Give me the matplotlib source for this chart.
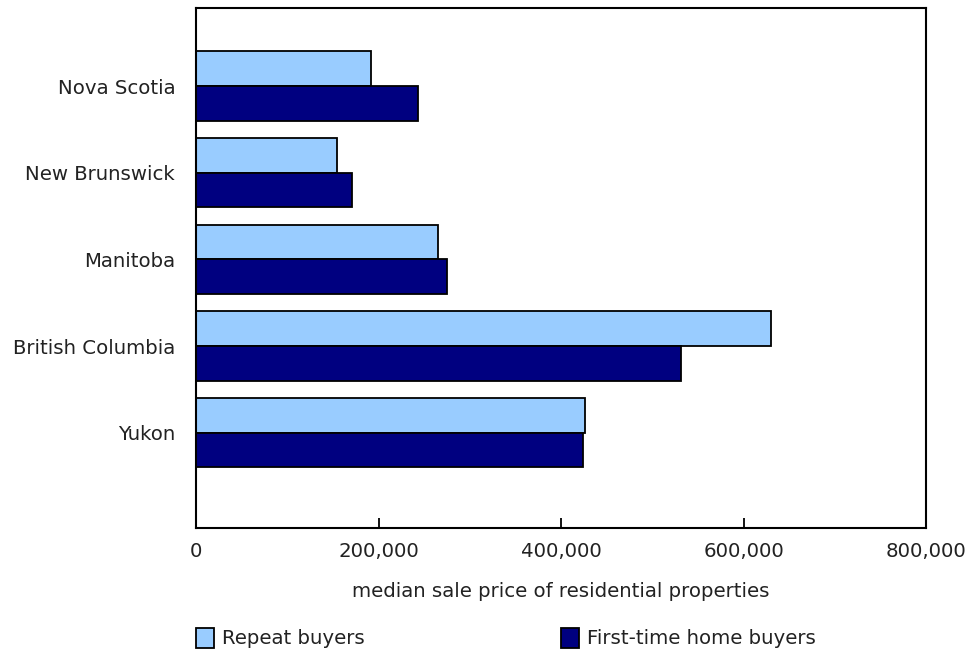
import numpy as np
import matplotlib.pyplot as plt
from matplotlib.patches import Patch

# ---------------------------------------------------------------------------
# Data
# ---------------------------------------------------------------------------
provinces = ["Nova Scotia", "New Brunswick", "Manitoba", "British Columbia", "Yukon"]
repeat_buyers = [191500, 154000, 265500, 630000, 426000]
first_time_buyers = [243500, 170500, 275500, 531000, 424500]

series_labels = ["Repeat buyers", "First-time home buyers"]
colors = ["#99CCFF", "#000080"]
x_ticks = [0, 200000, 400000, 600000, 800000]

FS = 14.2
TXT = "#222222"

# ---------------------------------------------------------------------------
# Plot
# ---------------------------------------------------------------------------
plt.rcParams["font.family"] = "DejaVu Sans"
fig = plt.figure(figsize=(9.71, 6.5), dpi=100)
ax = fig.add_axes([196 / 971, 1 - 528 / 650, 730 / 971, 520 / 650])

n = len(provinces)
y = np.arange(n)[::-1]  # first category at top
h = 0.4

ax.barh(y + h / 2, repeat_buyers, height=h, color=colors[0],
        edgecolor="black", linewidth=1.3)
ax.barh(y - h / 2, first_time_buyers, height=h, color=colors[1],
        edgecolor="black", linewidth=1.3)

ax.set_xlim(0, 800000)
ax.set_ylim(-1.1, 4.9)
ax.set_yticks(y)
ax.set_yticklabels(provinces, fontsize=FS, color=TXT)
ax.tick_params(axis="y", length=0, pad=15)

ax.set_xticks(x_ticks)
ax.set_xticklabels([f"{v:,}" for v in x_ticks], fontsize=FS, color=TXT)
ax.tick_params(axis="x", direction="in", length=7, width=1.3, pad=10)
ax.set_xlabel("median sale price of residential properties", fontsize=FS,
              color=TXT, labelpad=15)

for s in ax.spines.values():
    s.set_linewidth(1.5)
    s.set_color("black")

# legend: two entries placed separately
for label, col, xpos in zip(series_labels, colors, [196, 561]):
    fig.legend(handles=[Patch(facecolor=col, edgecolor="black", linewidth=1.3)],
               labels=[label], loc="center left",
               bbox_to_anchor=(xpos / 971, 1 - 638 / 650),
               frameon=False, fontsize=FS, handlelength=0.9, handleheight=1.2,
               handletextpad=0.4, borderpad=0, borderaxespad=0,
               labelcolor=TXT)

fig.savefig("out.png", dpi=100)
